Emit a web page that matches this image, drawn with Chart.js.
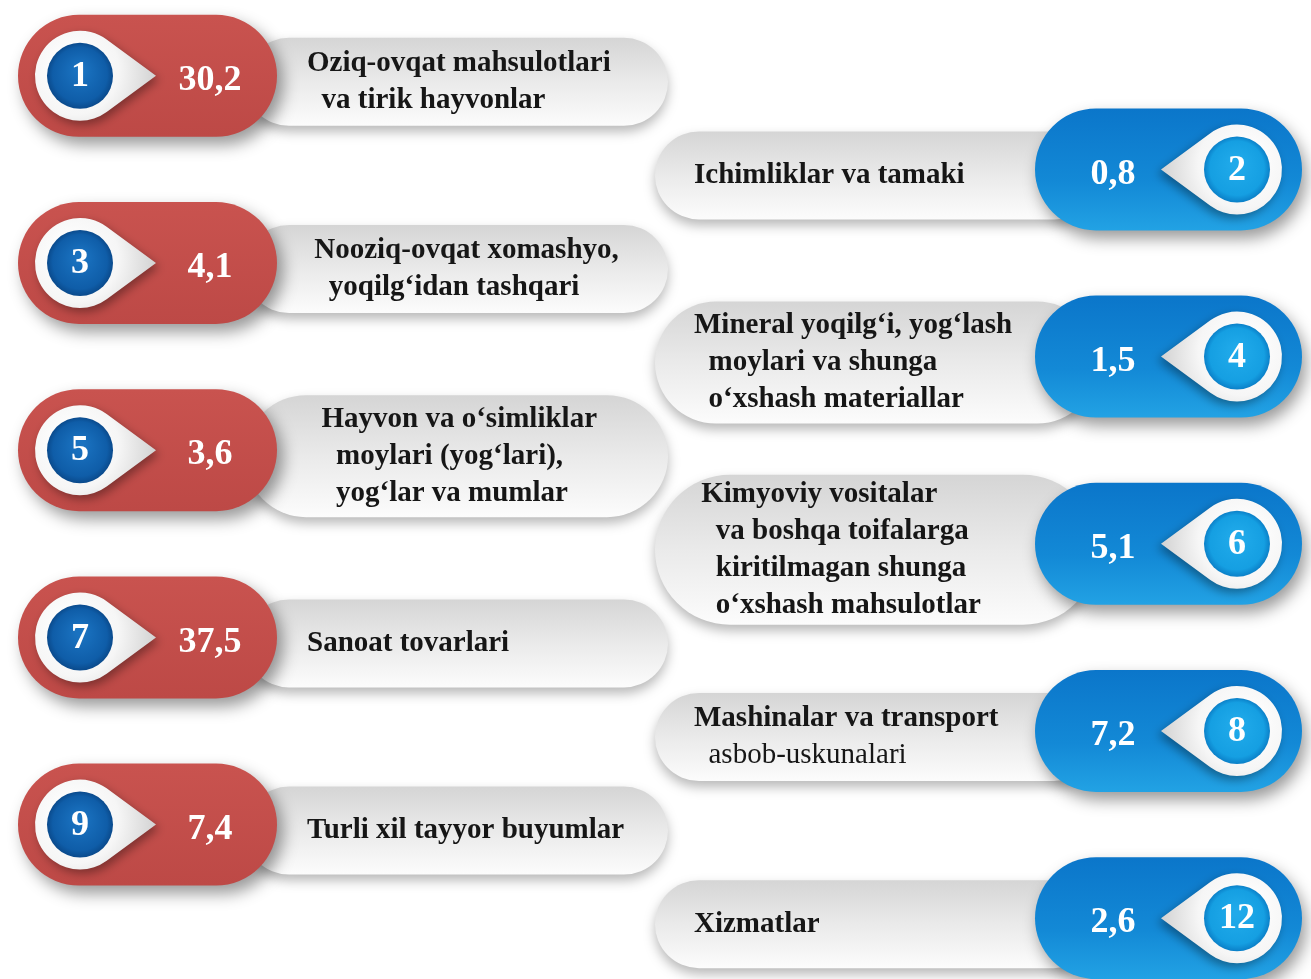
<html>
   <head>
      <script src="https://cdn.jsdelivr.net/npm/chart.js@4.4.0/dist/chart.umd.min.js"></script>
   </head>
   <style>
      html,
      body {
         margin: 0;
         background: #ffffff;
      }

      .graph {
         width: 1311px;
         height: 979px;
      }
   </style>

   <body>
      <div class="graph">
         <canvas id="myChart" width="1311" height="979"></canvas>
      </div>
   </body>
   <script>
      // item numbers, shares and names, in the order they run down the page
      const numbers = ["1", "2", "3", "4", "5", "6", "7", "8", "9", "12"];
      const values = [30.2, 0.8, 4.1, 1.5, 3.6, 5.1, 37.5, 7.2, 7.4, 2.6];
      const sides = ["left", "right", "left", "right", "left", "right", "left", "right", "left", "right"];
      const names = [
         ["Oziq-ovqat mahsulotlari", "  va tirik hayvonlar"],
         ["Ichimliklar va tamaki"],
         [" Nooziq-ovqat xomashyo,", "   yoqilg‘idan tashqari"],
         ["Mineral yoqilg‘i, yog‘lash", "  moylari va shunga", "  o‘xshash materiallar"],
         ["  Hayvon va o‘simliklar", "    moylari (yog‘lari),", "    yog‘lar va mumlar"],
         [" Kimyoviy vositalar", "   va boshqa toifalarga", "   kiritilmagan shunga", "   o‘xshash mahsulotlar"],
         ["Sanoat tovarlari"],
         ["Mashinalar va transport", "  asbob-uskunalari"],
         ["Turli xil tayyor buyumlar"],
         ["Xizmatlar"],
      ];
      // lines printed in regular weight (item index -> line indexes)
      const plainLines = { 7: [1] };

      const SERIF = '"Liberation Serif", "Times New Roman", serif';

      function pill(ctx, x0, y0, x1, y1) {
         const r = (y1 - y0) / 2;
         ctx.beginPath();
         ctx.moveTo(x0 + r, y0);
         ctx.lineTo(x1 - r, y0);
         ctx.arc(x1 - r, y0 + r, r, -Math.PI / 2, Math.PI / 2);
         ctx.lineTo(x0 + r, y1);
         ctx.arc(x0 + r, y0 + r, r, Math.PI / 2, (3 * Math.PI) / 2);
         ctx.closePath();
      }

      function grayPill(ctx, x0, x1, cy, h) {
         const y0 = cy - h / 2;
         const y1 = cy + h / 2;
         ctx.save();
         ctx.shadowColor = "rgba(0,0,0,0.28)";
         ctx.shadowBlur = 12;
         ctx.shadowOffsetY = 6;
         const g = ctx.createLinearGradient(0, y0, 0, y1);
         g.addColorStop(0, "#d5d5d5");
         g.addColorStop(0.5, "#eaeaea");
         g.addColorStop(1, "#fcfcfc");
         ctx.fillStyle = g;
         pill(ctx, x0, y0, x1, y1);
         ctx.fill();
         ctx.restore();
      }

      function colorPill(ctx, x0, x1, cy, side) {
         const y0 = cy - 61;
         const y1 = cy + 61;
         ctx.save();
         ctx.shadowColor = "rgba(0,0,0,0.4)";
         ctx.shadowBlur = 16;
         ctx.shadowOffsetX = side === "left" ? 6 : 4;
         ctx.shadowOffsetY = 8;
         const g = ctx.createLinearGradient(0, y0, 0, y1);
         if (side === "left") {
            g.addColorStop(0, "#c9534f");
            g.addColorStop(1, "#bd4946");
         } else {
            g.addColorStop(0, "#0b76ca");
            g.addColorStop(0.6, "#1389d6");
            g.addColorStop(1, "#22a2e4");
         }
         ctx.fillStyle = g;
         pill(ctx, x0, y0, x1, y1);
         ctx.fill();
         ctx.restore();
      }

      // white drop shape with the numbered circle inside
      function badge(ctx, bx, cy, dir, num) {
         const R = 45;
         const d = 76;
         const t = Math.acos(R / d);
         ctx.save();
         ctx.translate(bx, cy);
         ctx.scale(dir, 1);
         ctx.shadowColor = "rgba(0,0,0,0.35)";
         ctx.shadowBlur = 10;
         ctx.shadowOffsetX = 3 * dir;
         ctx.shadowOffsetY = 4;
         const g = ctx.createRadialGradient(-12, -12, 5, 0, 0, d);
         g.addColorStop(0, "#ffffff");
         g.addColorStop(0.55, "#f6f6f6");
         g.addColorStop(1, "#d2d2d2");
         ctx.fillStyle = g;
         ctx.beginPath();
         ctx.moveTo(d, 0);
         ctx.lineTo(R * Math.cos(t), -R * Math.sin(t));
         ctx.arc(0, 0, R, -t, t, true);
         ctx.closePath();
         ctx.fill();
         ctx.restore();

         ctx.save();
         const cg = ctx.createRadialGradient(bx, cy - 6, 4, bx, cy, 33);
         if (dir === 1) {
            cg.addColorStop(0, "#1a72c0");
            cg.addColorStop(0.8, "#0f5da8");
            cg.addColorStop(1, "#0a4a8c");
         } else {
            cg.addColorStop(0, "#20aaea");
            cg.addColorStop(0.8, "#159fe2");
            cg.addColorStop(1, "#0b80c8");
         }
         ctx.fillStyle = cg;
         ctx.beginPath();
         ctx.arc(bx, cy, 33, 0, Math.PI * 2);
         ctx.fill();
         ctx.fillStyle = "#ffffff";
         ctx.font = "bold 36px " + SERIF;
         ctx.textAlign = "center";
         ctx.textBaseline = "middle";
         ctx.fillText(num, bx, cy + 1);
         ctx.restore();
      }

      const pillPlugin = {
         id: "pills",
         beforeDatasetsDraw(chart) {
            const ctx = chart.ctx;
            const left = chart.chartArea.left;
            const meta = chart.getDatasetMeta(0);
            meta.data.forEach((bar, i) => {
               const cy = bar.y;
               const lines = names[i];
               const h = lines.length <= 2 ? 88 : lines.length === 3 ? 122 : 150;
               const gy = cy + 6;
               const isLeft = sides[i] === "left";

               if (isLeft) {
                  grayPill(ctx, left + 245, left + 668, gy, h);
                  colorPill(ctx, left + 18, left + 277, cy, "left");
                  badge(ctx, left + 80, cy, 1, numbers[i]);
               } else {
                  grayPill(ctx, left + 655, left + 1098, gy, h);
                  colorPill(ctx, left + 1035, left + 1302, cy, "right");
                  badge(ctx, left + 1237, cy, -1, numbers[i]);
               }

               ctx.save();
               ctx.textBaseline = "middle";
               ctx.textAlign = "center";
               ctx.fillStyle = "#ffffff";
               ctx.font = "bold 36px " + SERIF;
               const label = values[i].toFixed(1).replace(".", ",");
               ctx.fillText(label, left + (isLeft ? 210 : 1113), cy + 5);

               ctx.textAlign = "left";
               ctx.fillStyle = "#161616";
               const lh = 37;
               const tx = left + (isLeft ? 307 : 694);
               lines.forEach((line, k) => {
                  const plain = plainLines[i] && plainLines[i].includes(k);
                  ctx.font = (plain ? "" : "bold ") + "29px " + SERIF;
                  ctx.fillText(line, tx, gy + (k - (lines.length - 1) / 2) * lh);
               });
               ctx.restore();
            });
         },
      };

      const config = {
         type: "bar",
         data: {
            labels: numbers,
            datasets: [
               {
                  label: "Ulushi, %",
                  data: values,
                  backgroundColor: "rgba(0,0,0,0)",
                  borderWidth: 0,
               },
            ],
         },
         options: {
            indexAxis: "y",
            responsive: false,
            animation: false,
            layout: { padding: { top: 29, bottom: 14, left: 0, right: 0 } },
            scales: {
               x: { display: false, min: 0, max: 40 },
               y: { display: false },
            },
            plugins: {
               legend: { display: false },
               tooltip: { enabled: false },
            },
         },
         plugins: [pillPlugin],
      };

      let myChart = new Chart(document.getElementById("myChart"), config);
   </script>
</html>
